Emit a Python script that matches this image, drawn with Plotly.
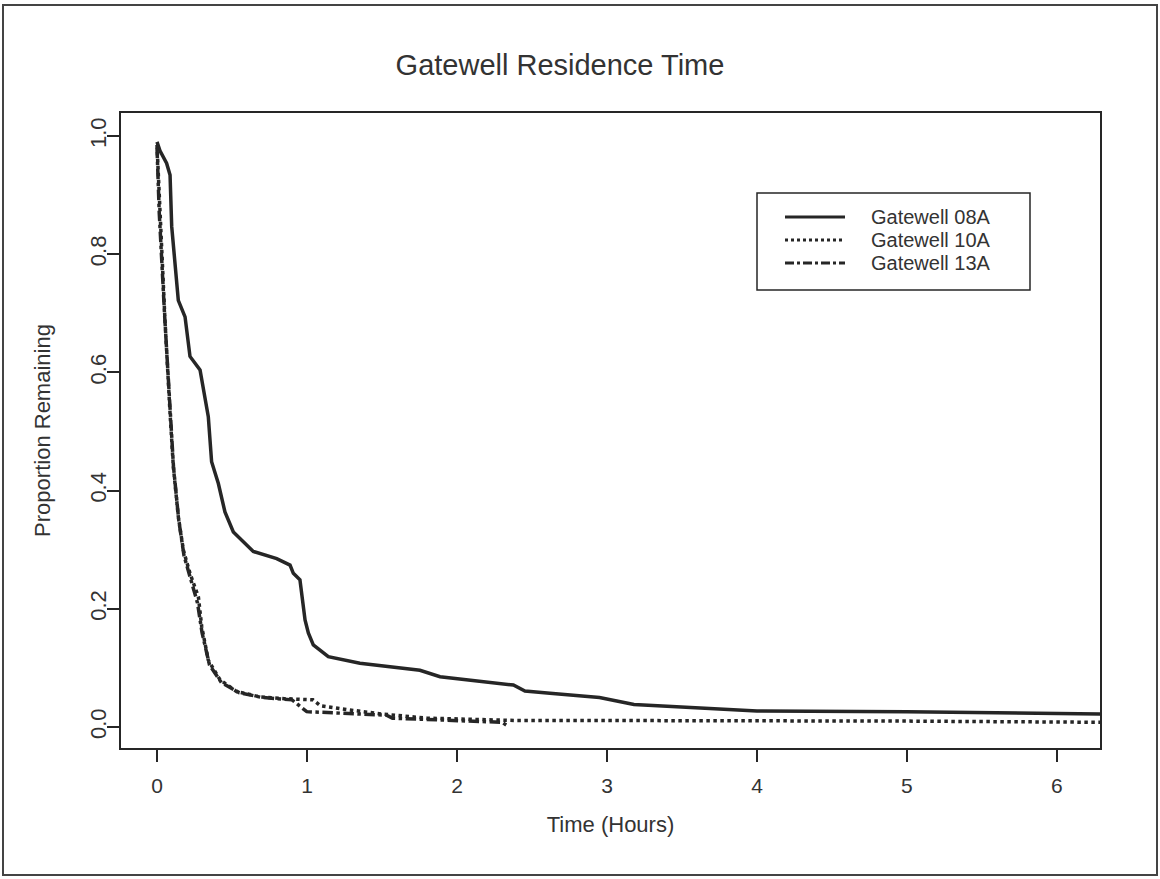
import plotly.graph_objects as go

# ---------------- data ----------------
t_08a = [0, 0.02, 0.064, 0.087, 0.098, 0.12, 0.142, 0.187, 0.22, 0.287, 0.32, 0.342, 0.364,
         0.409, 0.453, 0.509, 0.642, 0.798, 0.887, 0.909, 0.953, 0.987, 1.009, 1.042, 1.142,
         1.353, 1.753, 1.887, 2.376, 2.453, 2.62, 2.95, 3.18, 4.0, 5.0, 6.3]
p_08a = [0.99, 0.975, 0.954, 0.934, 0.847, 0.79, 0.722, 0.694, 0.627, 0.604, 0.56, 0.525, 0.449,
         0.412, 0.364, 0.330, 0.297, 0.285, 0.274, 0.260, 0.249, 0.181, 0.159, 0.139, 0.119,
         0.108, 0.096, 0.085, 0.071, 0.061, 0.057, 0.050, 0.038, 0.027, 0.026, 0.022]

t_10a = [0, 0.01, 0.02, 0.053, 0.087, 0.109, 0.142, 0.176, 0.22, 0.276, 0.298, 0.342, 0.42,
         0.531, 0.687, 0.85, 1.04, 1.09, 1.25, 1.5, 1.8, 2.2, 2.4, 3.0, 4.0, 5.0, 6.3]
p_10a = [0.985, 0.93, 0.858, 0.689, 0.531, 0.44, 0.356, 0.299, 0.26, 0.22, 0.17, 0.113, 0.080,
         0.060, 0.051, 0.048, 0.046, 0.036, 0.030, 0.022, 0.015, 0.012, 0.011, 0.011, 0.011, 0.010, 0.008]

t_13a = [0, 0.015, 0.05, 0.085, 0.11, 0.145, 0.18, 0.225, 0.27, 0.30, 0.35, 0.43, 0.55, 0.7,
         0.9, 0.998, 1.2, 1.53, 1.57, 1.9, 2.2, 2.3, 2.33]
p_13a = [0.98, 0.87, 0.70, 0.54, 0.44, 0.35, 0.29, 0.25, 0.21, 0.16, 0.105, 0.075, 0.058, 0.05,
         0.046, 0.026, 0.024, 0.020, 0.015, 0.012, 0.009, 0.008, 0.003]

series_names = ["Gatewell 08A", "Gatewell 10A", "Gatewell 13A"]
x_ticks = [0, 1, 2, 3, 4, 5, 6]
y_ticks = [0.0, 0.2, 0.4, 0.6, 0.8, 1.0]
y_tick_text = ["0.0", "0.2", "0.4", "0.6", "0.8", "1.0"]

# ---------------- layout geometry ----------------
W, H = 1160, 879
L, R, T, B = 121, 1100, 113, 748  # plot box in pixels


def px(xp):
    return (xp - L) / (R - L)


def py(yp):
    return (B - yp) / (B - T)


INK = "#262626"
TXT = "#333333"
FONT = "Liberation Sans, Arial, Helvetica, sans-serif"
dashes = ["solid", "dot", "dashdot"]

fig = go.Figure()
for name, xs, ys, d in zip(series_names, [t_08a, t_10a, t_13a], [p_08a, p_10a, p_13a], dashes):
    fig.add_trace(go.Scatter(x=xs, y=ys, mode="lines", name=name,
                             line=dict(color=INK, width=3.5, dash=d), showlegend=False))

shapes = []
annotations = []
# outer frame
shapes.append(dict(type="rect", xref="paper", yref="paper", x0=px(3), x1=px(1157),
                   y0=py(5), y1=py(875), line=dict(color="#444", width=2)))
# legend box
shapes.append(dict(type="rect", xref="paper", yref="paper", x0=px(757), x1=px(1030),
                   y0=py(193), y1=py(290), line=dict(color=INK, width=1.5)))
for i, (name, d) in enumerate(zip(series_names, dashes)):
    yrow = 217 + i * 23
    shapes.append(dict(type="line", xref="paper", yref="paper", x0=px(785), x1=px(845),
                       y0=py(yrow), y1=py(yrow), line=dict(color=INK, width=3, dash=d)))
    annotations.append(dict(xref="paper", yref="paper", x=px(869), y=py(yrow), text=name,
                            showarrow=False, xanchor="left", yanchor="middle",
                            font=dict(size=20, color=TXT, family=FONT)))

fig.update_layout(
    width=W, height=H,
    margin=dict(l=L, r=W - R, t=T, b=H - B),
    paper_bgcolor="white", plot_bgcolor="white",
    font=dict(family=FONT, color=TXT),
    title=dict(text="Gatewell Residence Time", x=px(560), xref="paper", xanchor="center",
               y=1 - 65 / H, yanchor="middle", font=dict(size=29, color=TXT, family=FONT)),
    shapes=shapes, annotations=annotations,
    xaxis=dict(range=[-0.24, 6.287], tickmode="array", tickvals=x_ticks,
               ticks="outside", ticklen=12, tickwidth=2, tickcolor=INK,
               showline=True, mirror=True, linecolor=INK, linewidth=2,
               showgrid=False, zeroline=False,
               tickfont=dict(size=21, color=TXT), ticklabelstandoff=6,
               title=dict(text="Time (Hours)", font=dict(size=22, color=TXT), standoff=20)),
    yaxis=dict(range=[-0.0355, 1.0389], tickmode="array", tickvals=y_ticks, ticktext=y_tick_text,
               ticks="outside", ticklen=12, tickwidth=2, tickcolor=INK,
               showline=True, mirror=True, linecolor=INK, linewidth=2,
               showgrid=False, zeroline=False, tickangle=-90,
               tickfont=dict(size=22, color=TXT), ticklabelstandoff=-8,
               title=dict(text="Proportion Remaining", font=dict(size=22, color=TXT), standoff=30)),
)

fig.write_html("out.html")
